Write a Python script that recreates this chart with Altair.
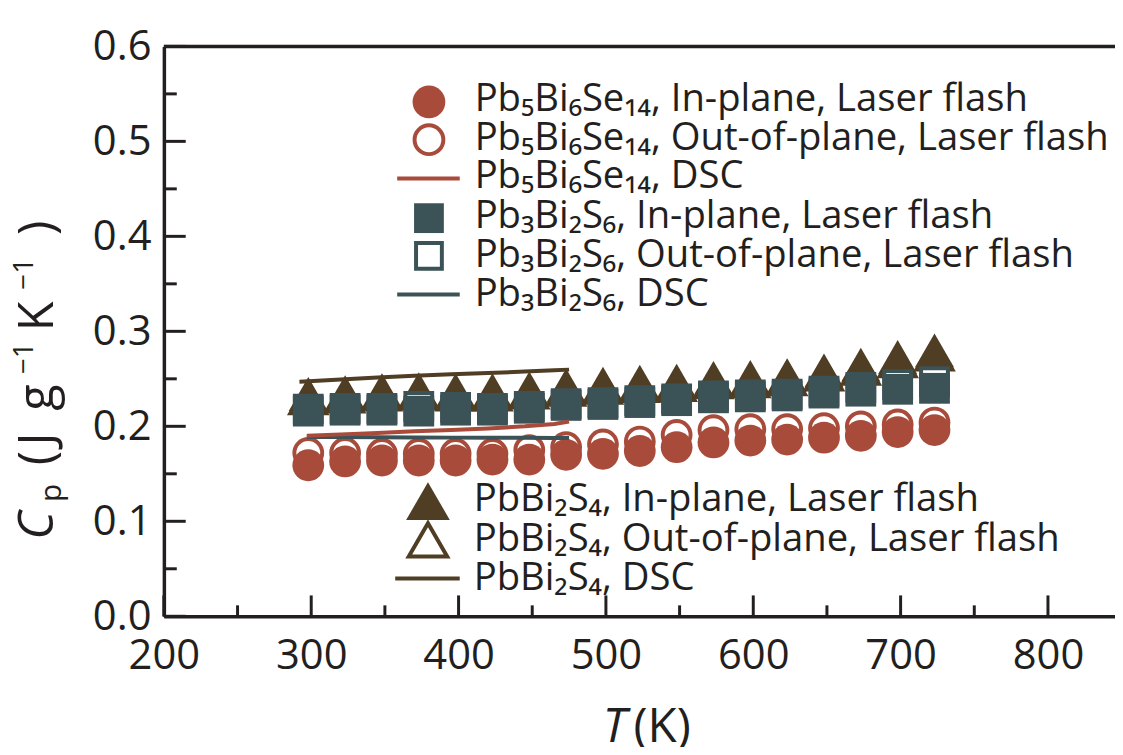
import altair as alt
import pandas as pd

# ---------------- data ----------------
T = [298, 323, 348, 373, 398, 423, 448, 473, 498, 523, 548, 573, 598, 623, 648, 673, 698, 723]
se_in = [0.159, 0.163, 0.164, 0.164, 0.164, 0.165, 0.165, 0.170, 0.171, 0.174, 0.178, 0.183, 0.185, 0.186, 0.188, 0.190, 0.194, 0.196]
se_out = [0.172, 0.172, 0.171, 0.171, 0.171, 0.171, 0.175, 0.178, 0.181, 0.184, 0.191, 0.196, 0.197, 0.197, 0.198, 0.200, 0.202, 0.204]
s6_in = [0.216, 0.217, 0.217, 0.216, 0.217, 0.217, 0.219, 0.222, 0.223, 0.225, 0.227, 0.230, 0.231, 0.232, 0.235, 0.237, 0.239, 0.240]
s6_out = [0.218, 0.219, 0.219, 0.221, 0.220, 0.219, 0.221, 0.224, 0.225, 0.227, 0.229, 0.232, 0.233, 0.234, 0.237, 0.241, 0.244, 0.247]
s4_in = [0.234, 0.236, 0.238, 0.239, 0.238, 0.238, 0.240, 0.243, 0.245, 0.247, 0.248, 0.251, 0.252, 0.254, 0.259, 0.265, 0.273, 0.280]
s4_out = [0.230, 0.232, 0.234, 0.235, 0.234, 0.234, 0.236, 0.239, 0.241, 0.243, 0.244, 0.247, 0.248, 0.250, 0.255, 0.261, 0.269, 0.276]

dsc_T = [297, 320, 345, 370, 395, 420, 445, 465, 475]
dsc_se = [0.190, 0.1915, 0.193, 0.1947, 0.1962, 0.1978, 0.200, 0.2025, 0.205]
dsc_s6 = [0.1888, 0.1887, 0.1885, 0.1883, 0.1881, 0.1880, 0.1879, 0.1878, 0.1878]
dsc_T_s4 = [292, 320, 345, 370, 395, 420, 445, 465, 475]
dsc_s4 = [0.247, 0.2493, 0.2513, 0.2532, 0.2548, 0.2562, 0.2576, 0.2590, 0.2597]

x_major = [200, 300, 400, 500, 600, 700, 800]
x_minor = [250, 350, 450, 550, 650, 750]
y_major = [0.0, 0.1, 0.2, 0.3, 0.4, 0.5, 0.6]
y_minor = [0.05, 0.15, 0.25, 0.35, 0.45, 0.55]

legend_top = [
    "Pb₅Bi₆Se₁₄, In-plane, Laser flash",
    "Pb₅Bi₆Se₁₄, Out-of-plane, Laser flash",
    "Pb₅Bi₆Se₁₄, DSC",
    "Pb₃Bi₂S₆, In-plane, Laser flash",
    "Pb₃Bi₂S₆, Out-of-plane, Laser flash",
    "Pb₃Bi₂S₆, DSC",
]
legend_bottom = [
    "PbBi₂S₄, In-plane, Laser flash",
    "PbBi₂S₄, Out-of-plane, Laser flash",
    "PbBi₂S₄, DSC",
]
# y-axis title pieces: text, role
ytitle_parts = [("C", "italic"), ("p", "sub"), ("(", "main"), ("J", "main"), ("g", "main"),
                ("−1", "sup"), ("K", "main"), ("−1", "sup"), (")", "main")]

# ---------------- style ----------------
RED = "#A94B3B"
TEAL = "#3B5256"
BROWN = "#4F3E24"
INK = "#231F20"
FONT = "Open Sans"
W, H = 958, 574

xscale = alt.Scale(domain=[200, 845.5], nice=False, zero=False)
yscale = alt.Scale(domain=[0, 0.6], nice=False, zero=False)
xaxis = alt.Axis(values=x_major, format="d", title=None, ticks=False, grid=False,
                 labelFontSize=42, labelFont=FONT, labelColor=INK, labelPadding=20,
                 labelFlush=False, domainColor=INK, domainWidth=3.5)
yaxis = alt.Axis(values=y_major, format=".1f", title=None, ticks=False, grid=False,
                 labelFontSize=42, labelFont=FONT, labelColor=INK, labelPadding=13,
                 domainColor=INK, domainWidth=3.5)
X = alt.X("T:Q", scale=xscale, axis=xaxis)
Y = alt.Y("Cp:Q", scale=yscale, axis=yaxis)


def df(t, v):
    return pd.DataFrame({"T": t, "Cp": v})


def open_pts(t, v, shape, size, color):
    return alt.Chart(df(t, v)).mark_point(
        shape=shape, size=size, filled=True, fill="white", stroke=color,
        strokeWidth=4, opacity=1, fillOpacity=1, strokeOpacity=1
    ).encode(x=X, y=Y)


def filled_pts(t, v, shape, size, color):
    return alt.Chart(df(t, v)).mark_point(
        shape=shape, size=size, filled=True, fill=color, strokeWidth=0, opacity=1
    ).encode(x=X, y=Y)


def line(t, v, color):
    return alt.Chart(df(t, v)).mark_line(color=color, strokeWidth=4).encode(x=X, y=Y)


layers = []
# frame top line
layers.append(alt.Chart(df([200], [0])).mark_rule(color=INK, strokeWidth=3.5).encode(
    x=alt.value(0), x2=alt.value(W), y=alt.value(0)))
# inward ticks
layers.append(alt.Chart(pd.DataFrame({"T": x_major})).mark_rule(color=INK, strokeWidth=3).encode(
    x=X, y=alt.value(H), y2=alt.value(H - 21)))
layers.append(alt.Chart(pd.DataFrame({"T": x_minor})).mark_rule(color=INK, strokeWidth=3).encode(
    x=X, y=alt.value(H), y2=alt.value(H - 11)))
layers.append(alt.Chart(pd.DataFrame({"Cp": y_major})).mark_rule(color=INK, strokeWidth=3).encode(
    y=Y, x=alt.value(0), x2=alt.value(22)))
layers.append(alt.Chart(pd.DataFrame({"Cp": y_minor})).mark_rule(color=INK, strokeWidth=3).encode(
    y=Y, x=alt.value(0), x2=alt.value(13)))

# data
layers.append(open_pts(T, s4_out, "triangle-up", 1300, BROWN))
layers.append(filled_pts(T, s4_in, "triangle-up", 1545, BROWN))
layers.append(open_pts(T, s6_out, "square", 729, TEAL))
layers.append(filled_pts(T, s6_in, "square", 961, TEAL))
layers.append(open_pts(T, se_out, "circle", 784, RED))
layers.append(filled_pts(T, se_in, "circle", 1024, RED))
layers.append(line(dsc_T_s4, dsc_s4, BROWN))
layers.append(line(dsc_T, dsc_s6, TEAL))
layers.append(line(dsc_T, dsc_se, RED))

# ---------------- legends ----------------
one = pd.DataFrame({"a": [0]})


def leg_sym(x, y, shape, size, color, hollow):
    if hollow:
        m = alt.Chart(one).mark_point(shape=shape, size=size, filled=True, fill="white",
                                      stroke=color, strokeWidth=4, opacity=1)
    else:
        m = alt.Chart(one).mark_point(shape=shape, size=size, filled=True, fill=color,
                                      strokeWidth=0, opacity=1)
    return m.encode(x=alt.value(x), y=alt.value(y))


def leg_line(x1, x2, y, color):
    return alt.Chart(one).mark_rule(color=color, strokeWidth=4).encode(
        x=alt.value(x1), x2=alt.value(x2), y=alt.value(y))


def leg_text(x, y, txt):
    return alt.Chart(one).mark_text(text=txt, align="left", baseline="alphabetic",
                                    font=FONT, fontSize=38.5, color=INK).encode(
        x=alt.value(x), y=alt.value(y))


top_sym_y = [56, 94, 133, 173, 211, 250]
top_base_y = [65, 104, 143, 183, 222, 261]
layers.append(leg_sym(267, top_sym_y[0], "circle", 1089, RED, False))
layers.append(leg_sym(267, top_sym_y[1], "circle", 841, RED, True))
layers.append(leg_line(235, 298, top_sym_y[2], RED))
layers.append(leg_sym(267, top_sym_y[3], "square", 900, TEAL, False))
layers.append(leg_sym(267, top_sym_y[4], "square", 676, TEAL, True))
layers.append(leg_line(235, 298, top_sym_y[5], TEAL))
for i, lab in enumerate(legend_top):
    layers.append(leg_text(313, top_base_y[i], lab))

bot_sym_y = [458, 497, 536]
bot_base_y = [468, 508, 548]
layers.append(leg_sym(266, bot_sym_y[0], "triangle-up", 1936, BROWN, False))
layers.append(leg_sym(266, bot_sym_y[1], "triangle-up", 1500, BROWN, True))
layers.append(leg_line(233, 298, bot_sym_y[2], BROWN))
for i, lab in enumerate(legend_bottom):
    layers.append(leg_text(312, bot_base_y[i], lab))

# ---------------- axis titles ----------------
# y title: each piece starts (bottom end, rotated text) at a y position
ytitle_start = [497, 459, 422, 402, 367, 330, 287, 245, 190]
for (txt, role), ys in zip(ytitle_parts, ytitle_start):
    if role == "sub":
        size, xb, style = 30, -104, "normal"
    elif role == "sup":
        size, xb, style = 28, -132, "normal"
    elif role == "italic":
        size, xb, style = 49, -112, "italic"
    else:
        size, xb, style = 49, -112, "normal"
    layers.append(alt.Chart(one).mark_text(text=txt, angle=270, align="left", baseline="alphabetic",
                                           font=FONT, fontStyle=style, fontSize=size, color=INK).encode(
        x=alt.value(xb), y=alt.value(ys)))

layers.append(alt.Chart(one).mark_text(text="T", align="right", baseline="alphabetic",
                                       font=FONT, fontStyle="italic", fontSize=48, color=INK).encode(
    x=alt.value(466), y=alt.value(701)))
layers.append(alt.Chart(one).mark_text(text="(K)", align="left", baseline="alphabetic",
                                       font=FONT, fontSize=48, color=INK).encode(
    x=alt.value(473), y=alt.value(701)))

chart = alt.layer(*layers).properties(
    width=W, height=H, autosize="none",
    padding={"left": 157, "top": 36, "right": 0, "bottom": 129},
).configure_view(stroke=None).configure(background="white")

chart.save("out.html", embed_options={"renderer": "svg", "actions": False})
